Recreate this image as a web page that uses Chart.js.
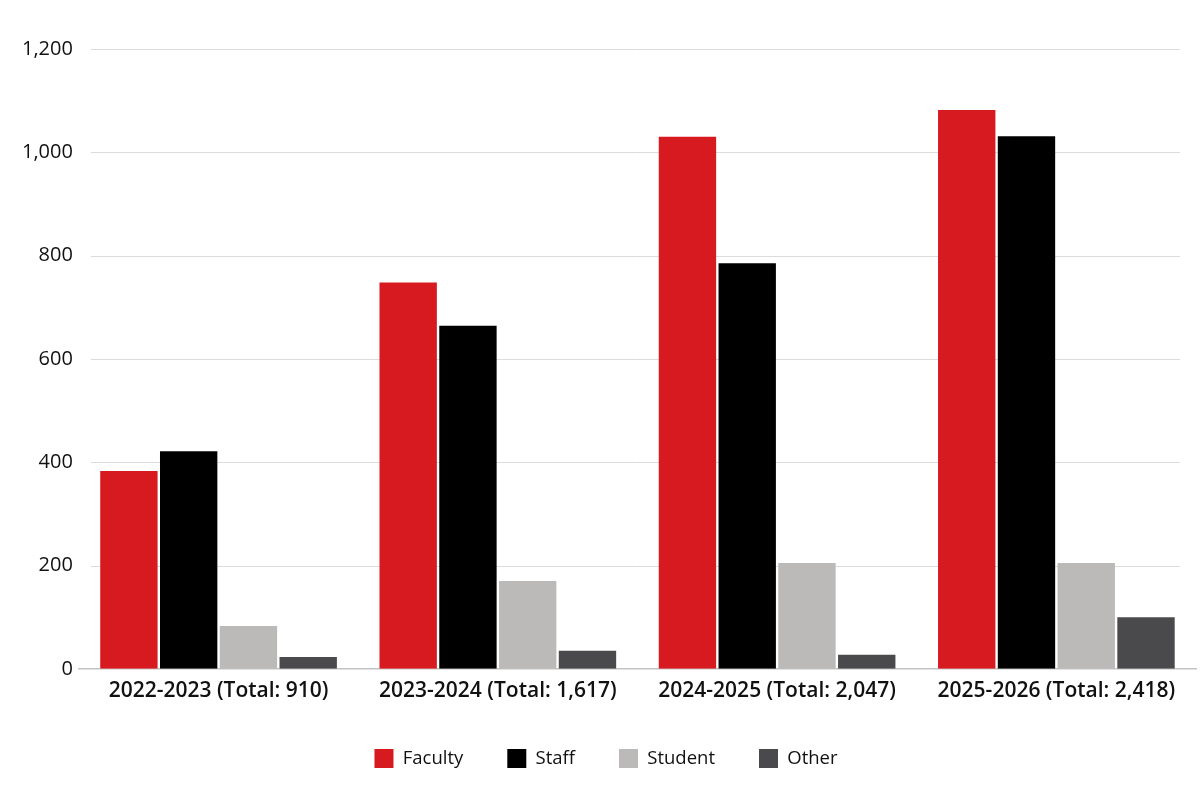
<!DOCTYPE html>
<html>
<head>
<meta charset="utf-8">
<title>Participants by year</title>
<script src="https://cdn.jsdelivr.net/npm/chart.js@4.4.1/dist/chart.umd.min.js"></script>
<style>
	html, body { margin: 0; padding: 0; background: #fff; }
	#wrap { width: 1200px; height: 800px; }
</style>
</head>
<body>
<div id="wrap"><canvas id="chart"></canvas></div>
<script>
// values
const years = ["2022-2023 (Total: 910)", "2023-2024 (Total: 1,617)", "2024-2025 (Total: 2,047)", "2025-2026 (Total: 2,418)"];
const faculty = [383, 748, 1030, 1082];
const staff = [421, 664, 785, 1031];
const student = [83, 170, 205, 205];
const other = [23, 35, 27, 100];
const yTicks = [0, 200, 400, 600, 800, 1000, 1200];

const FONT = "'Open Sans', Lato, sans-serif";

function makeSet(label, values, color) {
	return {
		label: label,
		data: values,
		backgroundColor: color,
		borderWidth: 0,
		barPercentage: 0.96,
		categoryPercentage: 0.856
	};
}

// horizontal grid lines, a little shorter than the chart area
const gridLines = {
	id: 'gridLines',
	beforeDatasetsDraw: function(chart) {
		const c = chart.ctx;
		const area = chart.chartArea;
		const y = chart.scales.y;
		c.save();
		c.strokeStyle = '#dcdcdc';
		c.lineWidth = 1;
		yTicks.forEach(function(v) {
			if (v === 0) return;
			const py = Math.round(y.getPixelForValue(v)) + 0.5;
			c.beginPath();
			c.moveTo(area.left + 12, py);
			c.lineTo(area.right - 16, py);
			c.stroke();
		});
		c.restore();
	}
};

document.addEventListener("DOMContentLoaded", function(event) {
	const ctx = document.getElementById("chart");
	new Chart(ctx, {
		type: 'bar',
		data: {
			labels: years,
			datasets: [
				makeSet("Faculty", faculty, "#d71920"),
				makeSet("Staff", staff, "#000000"),
				makeSet("Student", student, "#bbbab8"),
				makeSet("Other", other, "#4a4a4c")
			]
		},
		plugins: [gridLines],
		options: {
			responsive: true,
			maintainAspectRatio: false,
			animation: false,
			layout: { padding: { left: 16, right: 4, top: 49, bottom: 22 } },
			plugins: {
				tooltip: { enabled: false },
				legend: {
					position: 'bottom',
					labels: {
						boxWidth: 19,
						boxHeight: 19,
						padding: 44,
						color: '#111',
						font: { family: FONT, size: 18.5 }
					}
				}
			},
			scales: {
				x: {
					grid: { display: false, drawTicks: false },
					border: { color: '#c4c4c4', width: 1.5 },
					afterFit: function(axis) {
						// let the plot reach a bit lower, labels keep their gap
						axis.height -= 9;
					},
					ticks: {
						color: '#111',
						padding: 10,
						font: { family: FONT, size: 21, weight: '600' }
					}
				},
				y: {
					min: 0,
					max: 1200,
					afterBuildTicks: function(axis) {
						axis.ticks = yTicks.map(function(v) { return { value: v }; });
					},
					grid: { display: false, drawTicks: false },
					border: { display: false },
					ticks: {
						color: '#111',
						padding: 6,
						font: { family: FONT, size: 20 },
						callback: function(value) { return value.toLocaleString('en-US'); }
					}
				}
			}
		}
	});
});
</script>
</body>
</html>
